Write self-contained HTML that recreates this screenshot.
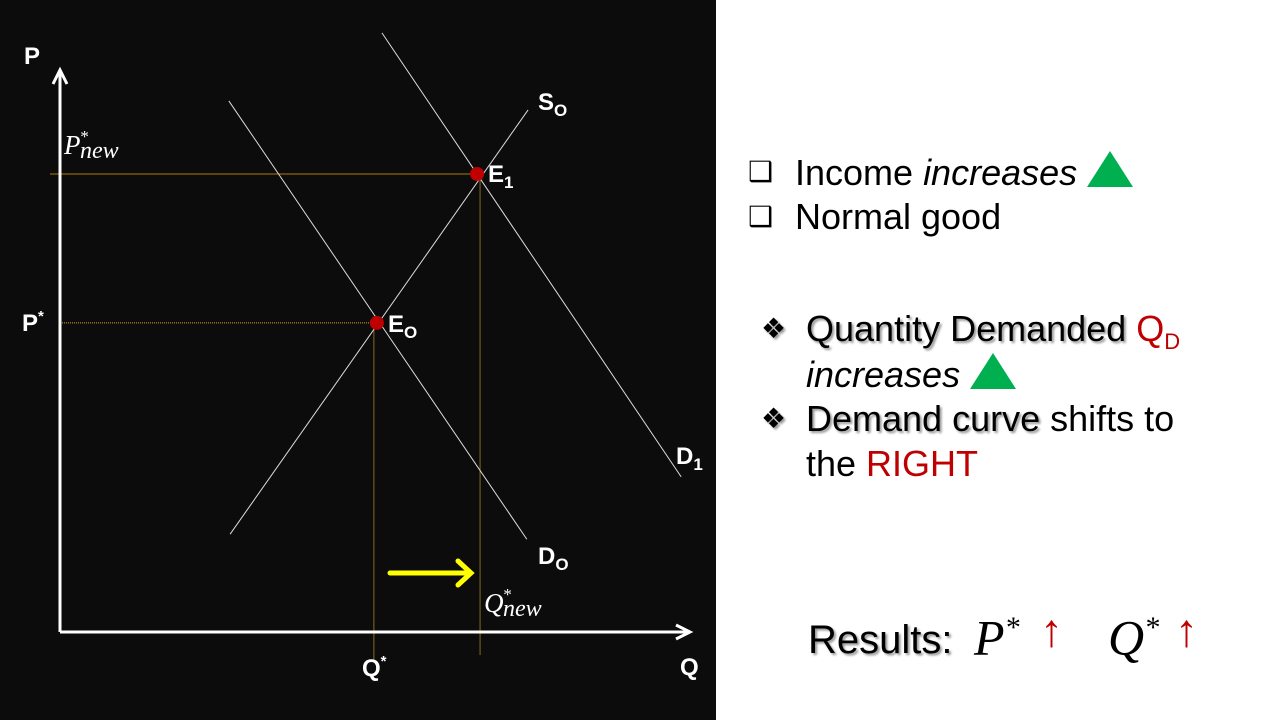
<!DOCTYPE html>
<html><head><meta charset="utf-8"><style>
body{margin:0;width:1280px;height:720px;overflow:hidden;background:#fff;font-family:"Liberation Sans",sans-serif}
#left{position:absolute;left:0;top:0;width:716px;height:720px;background:#0c0c0c}
.t{position:absolute;color:#000;font-size:36px;line-height:41px;white-space:nowrap}
.b{position:absolute;color:#000;font-size:28px;line-height:41px}
.sh{text-shadow:2px 2px 2px #999}
.red{color:#c00000}
.tri{display:inline-block;width:0;height:0;border-left:23px solid transparent;border-right:23px solid transparent;border-bottom:36px solid #00b050;vertical-align:-2px}
.m{position:absolute;font-family:'Liberation Serif',serif;font-style:italic;font-size:50px;line-height:60px;color:#000}
.ar{position:absolute;color:#c00000;font-size:46px;line-height:60px}
</style></head><body>
<div id="left">
<svg id="chart" width="716" height="720"></svg>
</div>
<div class="b" style="left:748px;top:151px">❑</div>
<div class="t" style="left:795px;top:151px">Income <i>increases</i> <span class="tri"></span></div>
<div class="b" style="left:748px;top:196px">❑</div>
<div class="t" style="left:795px;top:196px">Normal good</div>
<div class="b sh" style="left:761px;top:308px">❖</div>
<div class="t sh" style="left:806px;top:308px">Quantity Demanded <span class="red" style="text-shadow:none">Q<sub style="font-size:22px">D</sub></span></div>
<div class="t" style="left:806px;top:353px"><i>increases</i> <span class="tri"></span></div>
<div class="b sh" style="left:761px;top:398px">❖</div>
<div class="t sh" style="left:806px;top:398px">Demand curve <span style="text-shadow:none">shifts to</span></div>
<div class="t" style="left:806px;top:443px">the <span class="red">RIGHT</span></div>
<div class="t sh" style="left:808px;top:616px;font-size:40px;line-height:48px">Results:</div>
<div class="m" style="left:974px;top:598px">P<sup style="font-size:30px">*</sup></div>
<div class="ar" style="left:1040px;top:600px">↑</div>
<div class="m" style="left:1108px;top:598px">Q<sup style="font-size:30px">*</sup></div>
<div class="ar" style="left:1175px;top:600px">↑</div>
<script>
const curveNames=["D0","D1","S0"];
const curveStart=[[26.8,94.5],[51.1,106.6],[27.0,17.4]];
const curveEnd=[[74.1,16.5],[98.6,27.6],[74.3,92.9]];
const eqNames=["E0","E1"];
const eqQ=[50.3,66.2];
const eqP=[55.0,81.5];
const X=q=>60+q*6.3, Y=p=>632-p*5.62;
const svg=document.getElementById('chart');const NS="http://www.w3.org/2000/svg";
function mk(tag,a){const e=document.createElementNS(NS,tag);for(const k in a)e.setAttribute(k,a[k]);svg.appendChild(e);return e;}
function txt(x,y,s,extra,size,font,style){const e=mk('text',{x:x,y:y,fill:'#fff','font-size':size||24,'font-weight':font?'normal':'bold','font-family':font||'Liberation Sans','font-style':style||'normal'});e.innerHTML=s;return e;}
let g=mk('line',{x1:50,y1:Y(eqP[1]),x2:X(eqQ[1]),y2:Y(eqP[1]),stroke:'#b07a10','stroke-width':1});


g=mk('line',{x1:60,y1:Y(eqP[0]),x2:X(eqQ[0]),y2:Y(eqP[0]),stroke:'#e0a020','stroke-width':1,'stroke-dasharray':'1,1'});


g=mk('line',{x1:X(eqQ[0])-3,y1:Y(eqP[0]),x2:X(eqQ[0])-3,y2:660,stroke:'#8a6a20','stroke-width':1});


g=mk('line',{x1:X(eqQ[1])+3,y1:Y(eqP[1]),x2:X(eqQ[1])+3,y2:655,stroke:'#8a6a20','stroke-width':1});


curveNames.forEach((n,i)=>{const l=mk('line',{x1:X(curveStart[i][0]),y1:Y(curveStart[i][1]),x2:X(curveEnd[i][0]),y2:Y(curveEnd[i][1]),stroke:'#ddd','stroke-width':1});

});
let a=mk('path',{d:'M60,632 V72 M53,84 L60,70 L67,84 M60,632 H688 M676,625 L690,632 L676,639',stroke:'#fff','stroke-width':3,fill:'none'});


eqNames.forEach((n,i)=>{const c=mk('circle',{cx:X(eqQ[i]),cy:Y(eqP[i]),r:7,fill:'#c00000'});

});
a=mk('path',{d:'M390,573 H468 M458,561 L471,573 L458,585',stroke:'#ffff00','stroke-width':5,fill:'none','stroke-linecap':'round'});


const labels=[[24,64,'P'],[680,675,'Q'],[22,331,'P<tspan font-size="15" dy="-10">*</tspan>'],[362,676,'Q<tspan font-size="15" dy="-10">*</tspan>'],
[538,110,'S<tspan font-size="17" dy="6">O</tspan>'],[488,182,'E<tspan font-size="17" dy="6">1</tspan>'],[388,332,'E<tspan font-size="17" dy="6">O</tspan>'],
[676,464,'D<tspan font-size="17" dy="6">1</tspan>'],[538,564,'D<tspan font-size="17" dy="6">O</tspan>']];
labels.forEach(l=>{const e=txt(l[0],l[1],l[2]);

});
let e=txt(64,154,'P<tspan font-size="17" dx="-1" dy="-12">*</tspan><tspan font-size="24" dx="-8" dy="16">new</tspan>','',27,'Liberation Serif','italic');


e=txt(484,612,'Q<tspan font-size="17" dx="-1" dy="-12">*</tspan><tspan font-size="24" dx="-8" dy="16">new</tspan>','',27,'Liberation Serif','italic');


</script>
</body></html>
